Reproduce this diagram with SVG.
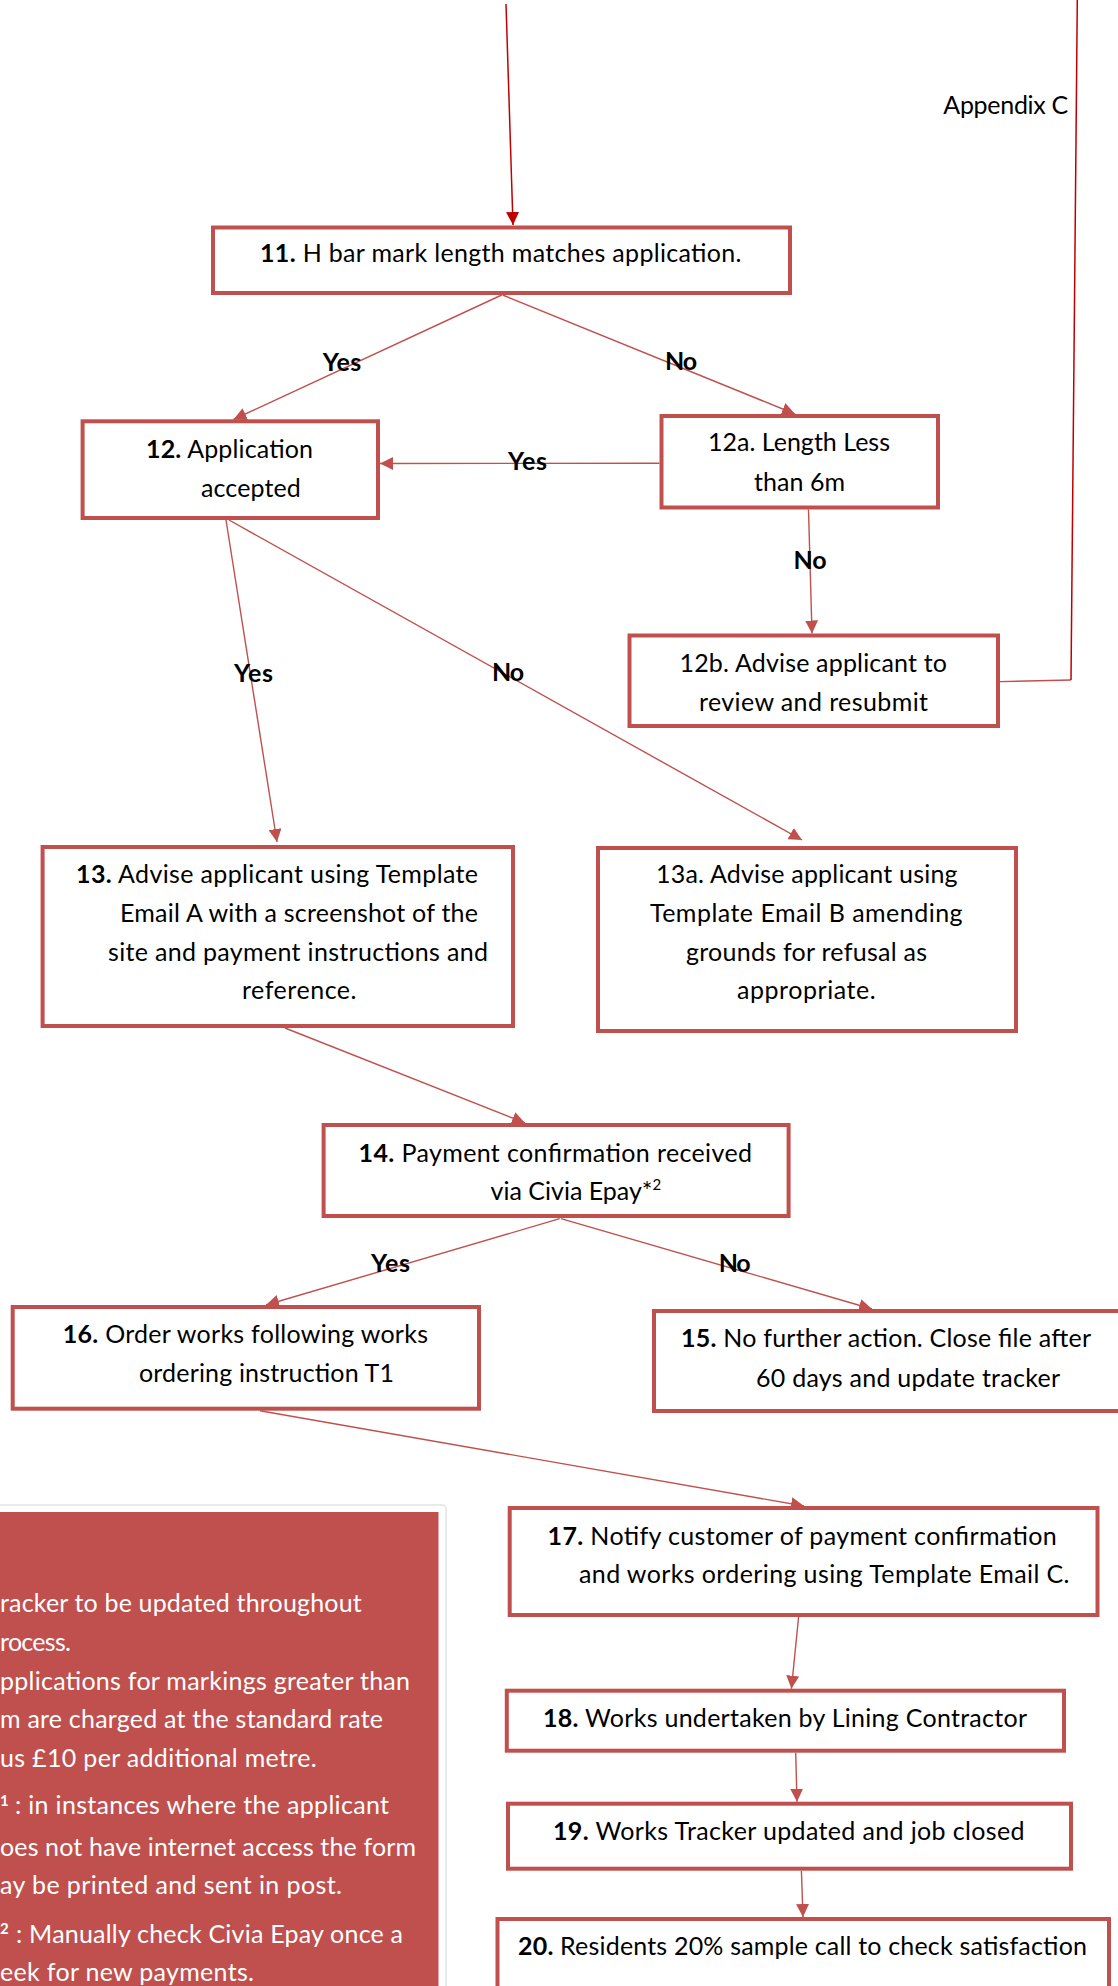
<svg xmlns="http://www.w3.org/2000/svg" width="1118" height="1986" viewBox="0 0 1118 1986">
<defs>
<marker id="ah" markerUnits="userSpaceOnUse" markerWidth="13" markerHeight="13" viewBox="0 0 13 13" refX="13" refY="6.5" orient="auto"><path d="M0,0 L13,6.5 L0,13 z" fill="#C0504D"/></marker>
<marker id="ahr" markerUnits="userSpaceOnUse" markerWidth="13" markerHeight="13" viewBox="0 0 13 13" refX="13" refY="6.5" orient="auto"><path d="M0,0 L13,6.5 L0,13 z" fill="#C00000"/></marker>
</defs>
<style>
.box{fill:#fff;stroke:#C0504D;stroke-width:4}
.c{fill:none;stroke:#C0504D;stroke-width:1.4}
.cr{fill:none;stroke:#C00000;stroke-width:1.5}
text{font-family:Lato,'Liberation Sans',sans-serif;font-size:25px;fill:#000}
.b{font-weight:bold}
.w{fill:#fff}
.sup{font-size:15px;font-weight:bold}
</style>
<rect width="1118" height="1986" fill="#fff"/>
<g id="connectors">
<line class="cr" x1="506" y1="4" x2="513" y2="225" marker-end="url(#ahr)"/>
<line class="c" x1="1000" y1="681.6" x2="1071" y2="680"/>
<line class="cr" x1="1071" y1="680" x2="1077.3" y2="0"/>
<line class="c" x1="501.7" y1="295" x2="233.5" y2="419.5" marker-end="url(#ah)"/>
<line class="c" x1="502.7" y1="295" x2="795" y2="414" marker-end="url(#ah)"/>
<line class="c" x1="659.5" y1="463.3" x2="380" y2="463.5" marker-end="url(#ah)"/>
<line class="c" x1="808.5" y1="509.5" x2="812" y2="633.5" marker-end="url(#ah)"/>
<line class="c" x1="226" y1="520" x2="277" y2="842" marker-end="url(#ah)"/>
<line class="c" x1="229" y1="520" x2="802" y2="840" marker-end="url(#ah)"/>
<line class="c" x1="285" y1="1028" x2="525" y2="1123" marker-end="url(#ah)"/>
<line class="c" x1="559.7" y1="1218.7" x2="266" y2="1305" marker-end="url(#ah)"/>
<line class="c" x1="561" y1="1218.7" x2="872" y2="1309" marker-end="url(#ah)"/>
<line class="c" x1="260" y1="1410.7" x2="804" y2="1506" marker-end="url(#ah)"/>
<line class="c" x1="798.6" y1="1617" x2="791.4" y2="1688.7" marker-end="url(#ah)"/>
<line class="c" x1="795.7" y1="1752.7" x2="797" y2="1801.7" marker-end="url(#ah)"/>
<line class="c" x1="801.4" y1="1870.7" x2="803" y2="1917" marker-end="url(#ah)"/>
<text class="b" x="322.7" y="370.7" textLength="38.5">Yes</text>
<text class="b" x="665" y="370" textLength="32">No</text>
<text class="b" x="508" y="470" textLength="39">Yes</text>
<text class="b" x="793.6" y="569" textLength="33">No</text>
<text class="b" x="234" y="682" textLength="39">Yes</text>
<text class="b" x="492" y="681" textLength="32">No</text>
<text class="b" x="371" y="1272" textLength="39">Yes</text>
<text class="b" x="718.7" y="1272" textLength="32">No</text>
</g>
<g id="appendix">
<text x="943.3" y="114.3" textLength="125">Appendix C</text>
</g>
<g id="n11">
<rect class="box" x="213" y="227.5" width="577" height="65.5"/>
<text x="260" y="262" textLength="481.5"><tspan class="b">11.</tspan> H bar mark length matches application.</text>
</g>
<g id="n12">
<rect class="box" x="82.6" y="421.3" width="295.4" height="96.7"/>
<text x="146" y="458.3" textLength="167"><tspan class="b">12.</tspan> Application</text>
<text x="201" y="496.7" textLength="99.7">accepted</text>
</g>
<g id="n12a">
<rect class="box" x="661.5" y="416" width="276.5" height="91.5"/>
<text x="708" y="451" textLength="182">12a. Length Less</text>
<text x="754" y="491" textLength="91">than 6m</text>
</g>
<g id="n12b">
<rect class="box" x="629.5" y="635.5" width="368.5" height="90.5"/>
<text x="679.5" y="672" textLength="267.5">12b. Advise applicant to</text>
<text x="699" y="711" textLength="229">review and resubmit</text>
</g>
<g id="n13">
<rect class="box" x="42.6" y="847" width="470.4" height="179"/>
<text x="76" y="883" textLength="402"><tspan class="b">13.</tspan> Advise applicant using Template</text>
<text x="120" y="922" textLength="358">Email A with a screenshot of the</text>
<text x="108" y="960.6" textLength="380">site and payment instructions and</text>
<text x="242" y="999" textLength="114.5">reference.</text>
</g>
<g id="n13a">
<rect class="box" x="598" y="848" width="418" height="183"/>
<text x="656" y="883" textLength="301.6">13a. Advise applicant using</text>
<text x="650" y="922" textLength="312.6">Template Email B amending</text>
<text x="686" y="960.6" textLength="241">grounds for refusal as</text>
<text x="737" y="999" textLength="138.6">appropriate.</text>
</g>
<g id="n14">
<rect class="box" x="323.6" y="1125" width="465" height="91"/>
<text x="358.6" y="1161.7" textLength="393.4"><tspan class="b">14.</tspan> Payment confirmation received</text>
<text x="490.6" y="1200">via Civia Epay*<tspan font-size="15" dy="-10">2</tspan></text>
</g>
<g id="n16">
<rect class="box" x="12.7" y="1307" width="466.3" height="101.7"/>
<text x="62.7" y="1343" textLength="365.3"><tspan class="b">16.</tspan> Order works following works</text>
<text x="139" y="1381.7" textLength="255">ordering instruction T1</text>
</g>
<g id="n15">
<rect class="box" x="654" y="1311" width="480" height="100"/>
<text x="681" y="1347" textLength="410"><tspan class="b">15.</tspan> No further action. Close file after</text>
<text x="756" y="1386.7" textLength="304">60 days and update tracker</text>
</g>
<g id="n17">
<rect class="box" x="509.7" y="1508" width="587.8" height="107"/>
<text x="547.6" y="1545" textLength="509.1"><tspan class="b">17.</tspan> Notify customer of payment confirmation</text>
<text x="579" y="1583" textLength="490.5">and works ordering using Template Email C.</text>
</g>
<g id="n18">
<rect class="box" x="506.8" y="1690.7" width="557.2" height="60"/>
<text x="543" y="1726.7" textLength="484"><tspan class="b">18.</tspan> Works undertaken by Lining Contractor</text>
</g>
<g id="n19">
<rect class="box" x="508" y="1803.7" width="563" height="65"/>
<text x="553" y="1840" textLength="471.6"><tspan class="b">19.</tspan> Works Tracker updated and job closed</text>
</g>
<g id="n20">
<rect class="box" x="497.5" y="1919" width="611.5" height="100"/>
<text x="518" y="1955" textLength="569"><tspan class="b">20.</tspan> Residents 20% sample call to check satisfaction</text>
</g>
<g id="notes">
<rect x="-10" y="1505" width="456" height="500" rx="4" fill="#fff" stroke="#e3e3e3" stroke-width="1.5"/>
<rect x="-5" y="1512" width="443.5" height="480" fill="#C0504D"/>
<text class="w" x="0" y="1611.7" textLength="361.7">racker to be updated throughout</text>
<text class="w" x="0" y="1650.5" textLength="71">rocess.</text>
<text class="w" x="0" y="1690" textLength="410">pplications for markings greater than</text>
<text class="w" x="0" y="1728" textLength="383">m are charged at the standard rate</text>
<text class="w" x="0" y="1766.7" textLength="316.6">us £10 per additional metre.</text>
<text class="w"><tspan class="sup" x="0" y="1806">1</tspan><tspan x="15" y="1814" textLength="374">: in instances where the applicant</tspan></text>
<text class="w" x="0" y="1855.5" textLength="416">oes not have internet access the form</text>
<text class="w" x="0" y="1894" textLength="342">ay be printed and sent in post.</text>
<text class="w"><tspan class="sup" x="0" y="1934">2</tspan><tspan x="16" y="1942.5" textLength="387">: Manually check Civia Epay once a</tspan></text>
<text class="w" x="0" y="1981" textLength="254">eek for new payments.</text>
</g>
</svg>
